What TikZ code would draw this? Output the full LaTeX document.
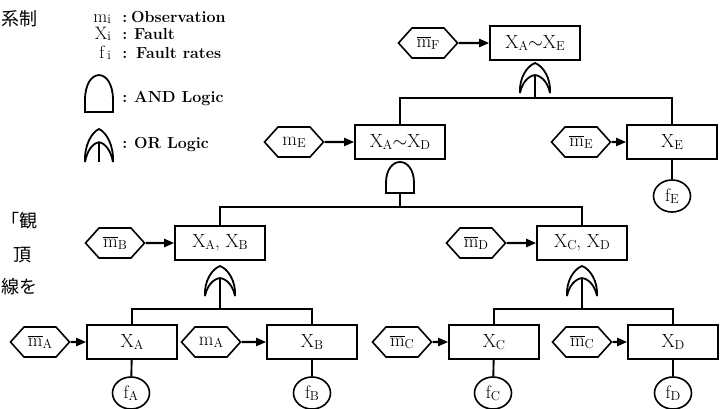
\RequirePackage{fix-cm}
\documentclass[tikz,border=0pt]{standalone}
\usepackage{fontspec}
\newfontfamily\jpfont{Noto Sans CJK JP}
\usetikzlibrary{arrows.meta,shapes.symbols,shapes.geometric}

% lowered small-capital index, as in X_A
\newcommand\lo[1]{\raisebox{-0.25ex}{\fontsize{13}{13}\selectfont #1}}
% negated observation m with a bar
\newcommand\mbar{$\overline{\mbox{m}}$}

\tikzset{
  fault/.style={draw, line width=1.6pt, minimum width=90pt, minimum height=34pt,
    inner sep=0pt, font=\fontsize{19}{22}\selectfont},
  obsv/.style={draw, line width=1.6pt, signal, signal to=west and east,
    signal pointer angle=96, minimum width=59pt, minimum height=30pt,
    inner sep=0pt, font=\fontsize{19}{22}\selectfont},
  rate/.style={draw, ellipse, line width=1.6pt, minimum width=37pt,
    minimum height=32pt, inner sep=0pt, font=\fontsize{18}{20}\selectfont},
  feed/.style={line width=2.2pt, -{Triangle[length=10pt,width=8pt]}},
  trunk/.style={line width=2.6pt},
  tie/.style={line width=1.9pt},
  gateline/.style={line width=1.8pt},
  legend/.style={font=\fontsize{16}{18}\selectfont\bfseries, inner sep=0pt},
  legsym/.style={font=\fontsize{18}{20}\selectfont, inner sep=0pt},
  jp/.style={font=\jpfont\fontsize{18}{18}\selectfont, inner sep=0pt},
  pics/orgate/.style={code={
    \draw[gateline] (-15,0) .. controls (-16,-15) and (-8,-27) .. (0,-30)
                            .. controls (8,-27) and (16,-15) .. (15,0);
    \draw[gateline] (-15,0) .. controls (-13,-10) and (-7,-17) .. (0,-18)
                            .. controls (7,-17) and (13,-10) .. (15,0);
    \coordinate (-in) at (0,-18);
    \coordinate (-base) at (0,0);
  }},
  pics/andgate/.style={code={
    \draw[gateline] (-14,0) -- (-14,-10) .. controls (-14,-24) and (-7,-31) .. (0,-31)
                    .. controls (7,-31) and (14,-24) .. (14,-10) -- (14,0) -- cycle;
    \coordinate (-out) at (0,0);
  }},
}

\begin{document}
\begin{tikzpicture}[x=1pt, y=-1pt]
\fill[white] (0,0) rectangle (721,408);
\useasboundingbox (0,0) rectangle (721,408);

% surrounding page text
\node[jp, anchor=west] (jpa) at (1,19) {系制};
\node[jp, anchor=east] (jpb) at (38,221) {「観};
\node[jp] (jpc) at (22,255) {頂};
\node[jp, anchor=west] (jpd) at (1,287) {線を};

% legend
\node[legsym, anchor=base east] (s1) at (111,22) {m\lo{i}};
\node[legend, anchor=base] (c1) at (125,22) {:};
\node[legend, anchor=base west] (t1) at (131,22) {Observation};
\node[legsym, anchor=base east] (s2) at (111,39) {X\lo{i}};
\node[legend, anchor=base] (c2) at (125,39) {:};
\node[legend, anchor=base west] (t2) at (134,39) {Fault};
\node[legsym, anchor=base east] (s3) at (111,58) {f\,\lo{i}};
\node[legend, anchor=base] (c3) at (125,58) {:};
\node[legend, anchor=base west] (t3) at (136,58) {Fault rates};
\pic[yscale=1.19] (lgA) at (99,112) {andgate};
\node[legend, anchor=base] (c4) at (125,102) {:};
\node[legend, anchor=base west] (t4) at (134,102) {AND Logic};
\pic[xscale=0.93, yscale=1.1] (lgO) at (99,162) {orgate};
\draw[gateline] (lgO-in) -- (lgO-base);
\node[legend, anchor=base] (c5) at (125,148) {:};
\node[legend, anchor=base west] (t5) at (134,148) {OR Logic};

% level 1
\node[fault] (XAE) at (535,43) {X\lo{A}$\sim$X\lo{E}};
\node[obsv] (mF) at (428,43) {\mbar\lo{F}};
\draw[feed] (mF) -- (XAE);
\pic (gE) at (535,93) {orgate};
\coordinate (j1) at (535,98);

% level 2
\node[fault] (XAD) at (400,142) {X\lo{A}$\sim$X\lo{D}};
\node[obsv] (mE) at (294,142) {m\lo{E}};
\draw[feed] (mE) -- (XAD);
\node[fault] (XE) at (672,142) {X\lo{E}};
\node[obsv] (mbE) at (581,142) {\mbar\lo{E}};
\draw[feed] (mbE) -- (XE);
\node[rate] (fE) at (672,196) {f\lo{E}};
\draw[tie] (XE) -- (fE);
\draw[trunk] (gE-in) -- (j1);
\draw[trunk] (XAD.north) |- (j1) -| (XE.north);
\pic (gD) at (400,193) {andgate};
\coordinate (j2) at (400,207);

% level 3
\node[fault] (XAB) at (220,243) {X\lo{A}, X\lo{B}};
\node[obsv] (mB) at (115,243) {\mbar\lo{B}};
\draw[feed] (mB) -- (XAB);
\node[fault] (XCD) at (582,243) {X\lo{C}, X\lo{D}};
\node[obsv] (mD) at (476,243) {\mbar\lo{D}};
\draw[feed] (mD) -- (XCD);
\draw[trunk] (gD-out) -- (j2);
\draw[trunk] (XAB.north) |- (j2) -| (XCD.north);
\pic (gAB) at (220,296) {orgate};
\pic (gCD) at (582,296) {orgate};
\coordinate (j3) at (220,309);
\coordinate (j4) at (582,309);

% level 4
\node[fault] (XA) at (132,342) {X\lo{A}};
\node[obsv] (mbA) at (40,342) {\mbar\lo{A}};
\draw[feed] (mbA) -- (XA);
\node[fault] (XB) at (312,342) {X\lo{B}};
\node[obsv] (mA) at (211,342) {m\lo{A}};
\draw[feed] (mA) -- (XB);
\node[fault] (XC) at (494,342) {X\lo{C}};
\node[obsv] (mbC) at (402,342) {\mbar\lo{C}};
\draw[feed] (mbC) -- (XC);
\node[fault] (XD) at (673,342) {X\lo{D}};
\node[obsv] (mbCb) at (582,342) {\mbar\lo{C}};
\draw[feed] (mbCb) -- (XD);
\draw[trunk] (gAB-in) -- (j3);
\draw[trunk] (XA.north) |- (j3) -| (XB.north);
\draw[trunk] (gCD-in) -- (j4);
\draw[trunk] (XC.north) |- (j4) -| (XD.north);

\node[rate] (fA) at (131,393) {f\lo{A}};
\node[rate] (fB) at (312,393) {f\lo{B}};
\node[rate] (fC) at (493,393) {f\lo{C}};
\node[rate] (fD) at (673,393) {f\lo{D}};
\draw[tie] (XA) -- (fA);
\draw[tie] (XB) -- (fB);
\draw[tie] (XC) -- (fC);
\draw[tie] (XD) -- (fD);
\end{tikzpicture}
\end{document}
